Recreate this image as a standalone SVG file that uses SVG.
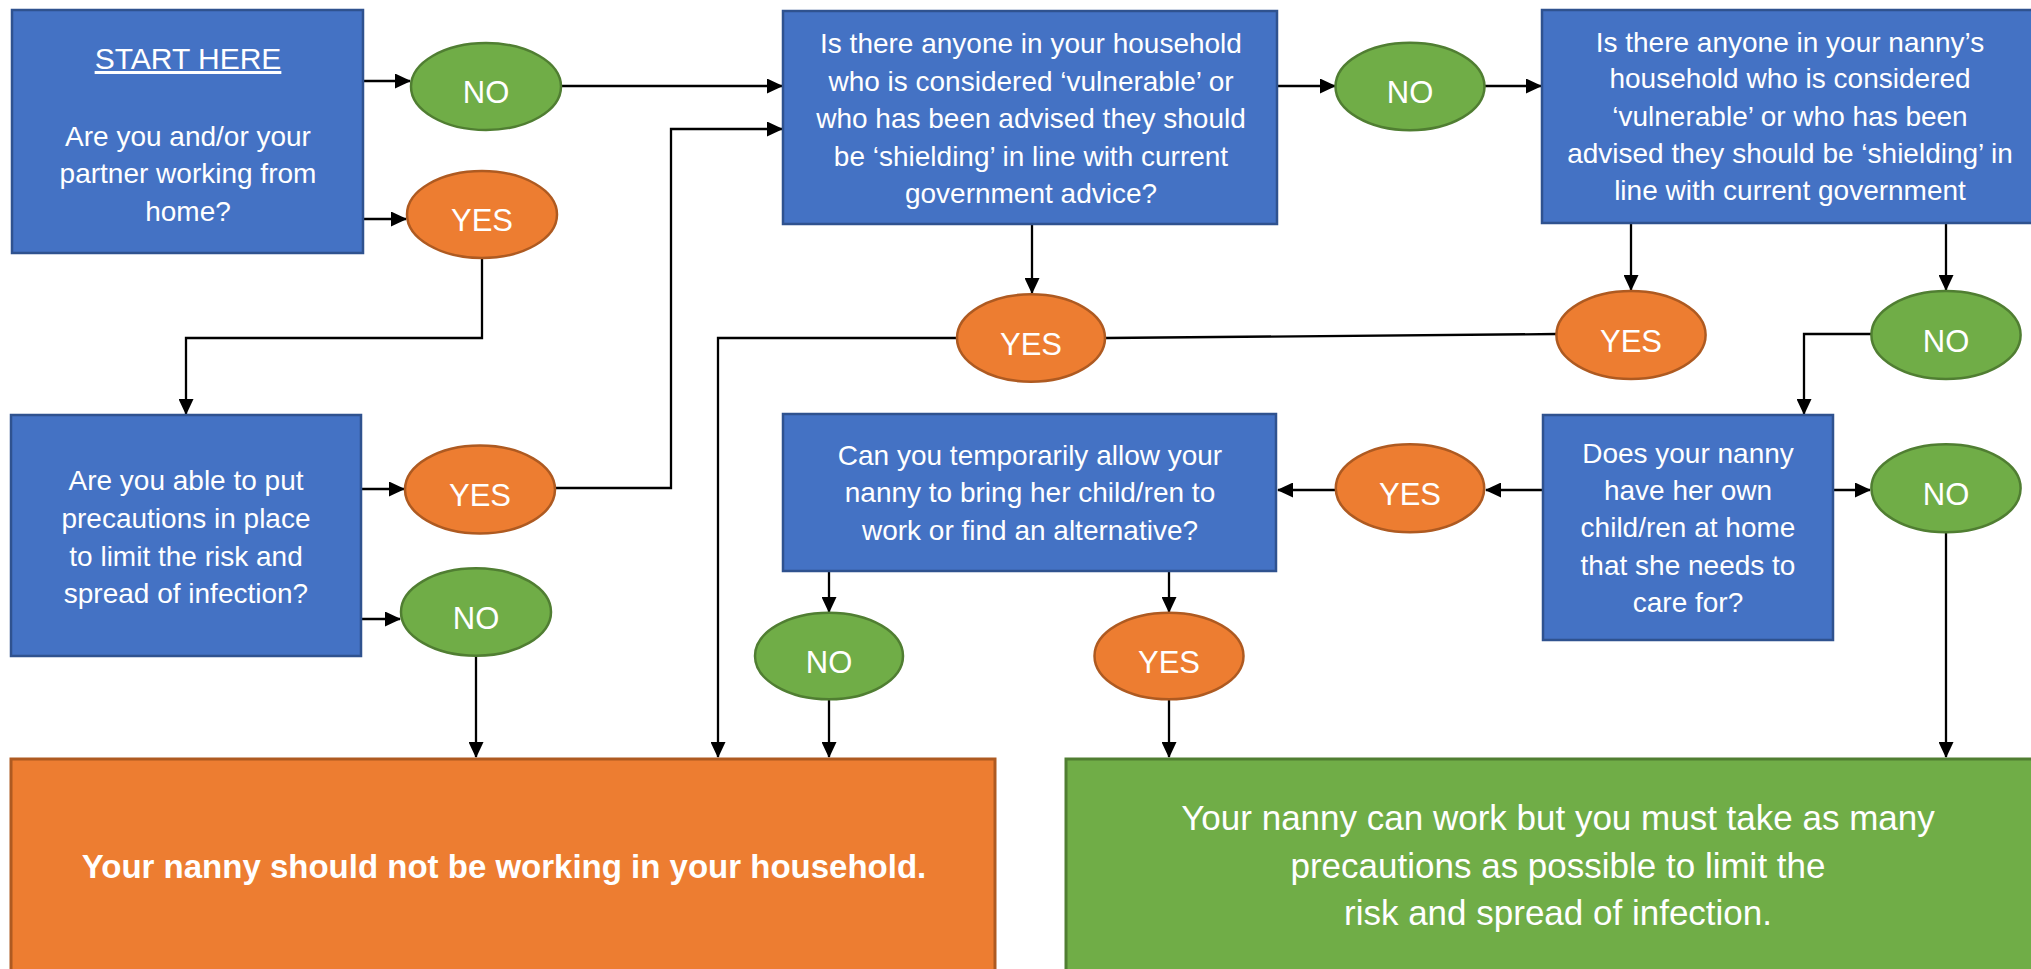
<svg xmlns="http://www.w3.org/2000/svg" width="2031" height="969" viewBox="0 0 2031 969">
<style>
.box{fill:#4472C4;stroke:#2F528F;stroke-width:2.5}
.yes{fill:#ED7D31;stroke:#AE5A21;stroke-width:2.5}
.no{fill:#70AD47;stroke:#507E32;stroke-width:2.5}
.t{font-family:"Liberation Sans",Arial,sans-serif;font-size:28px;fill:#fff;text-anchor:middle}
.head{font-size:30px;text-decoration:underline}
.big{font-size:35px}
.bold{font-size:33px;font-weight:bold}
.lbl{font-family:"Liberation Sans",Arial,sans-serif;font-size:31px;fill:#fff;text-anchor:middle}
.c{fill:none;stroke:#000;stroke-width:2.3}
</style>
<defs>
<marker id="ah" markerUnits="userSpaceOnUse" markerWidth="16" markerHeight="15" refX="15" refY="7.5" orient="auto">
<path d="M0,0 L16,7.5 L0,15 z" fill="#000"/>
</marker>
</defs>
<rect width="2031" height="969" fill="#fff"/>

<g id="connectors">
<path class="c" d="M363,81 H410" marker-end="url(#ah)"/>
<path class="c" d="M360,219 H406" marker-end="url(#ah)"/>
<path class="c" d="M561,86 H782" marker-end="url(#ah)"/>
<path class="c" d="M482,258 V338 H186 V414" marker-end="url(#ah)"/>
<path class="c" d="M361,489 H404" marker-end="url(#ah)"/>
<path class="c" d="M361,619 H400" marker-end="url(#ah)"/>
<path class="c" d="M556,488 H671 V129 H782" marker-end="url(#ah)"/>
<path class="c" d="M476,656 V757" marker-end="url(#ah)"/>
<path class="c" d="M1278,86 H1335" marker-end="url(#ah)"/>
<path class="c" d="M1485,86 H1541" marker-end="url(#ah)"/>
<path class="c" d="M1032,224 V293" marker-end="url(#ah)"/>
<path class="c" d="M957,338 H718 V757" marker-end="url(#ah)"/>
<path class="c" d="M1556,334 L1106,338"/>
<path class="c" d="M1631,224 V290" marker-end="url(#ah)"/>
<path class="c" d="M1946,224 V290" marker-end="url(#ah)"/>
<path class="c" d="M1871,334 H1804 V414" marker-end="url(#ah)"/>
<path class="c" d="M1834,490 H1870" marker-end="url(#ah)"/>
<path class="c" d="M1543,490 H1486" marker-end="url(#ah)"/>
<path class="c" d="M1336,490 H1278" marker-end="url(#ah)"/>
<path class="c" d="M829,571 V612" marker-end="url(#ah)"/>
<path class="c" d="M1169,571 V612" marker-end="url(#ah)"/>
<path class="c" d="M829,699 V757" marker-end="url(#ah)"/>
<path class="c" d="M1169,699 V757" marker-end="url(#ah)"/>
<path class="c" d="M1946,532 V757" marker-end="url(#ah)"/>
</g>

<g id="start">
<rect class="box" x="12" y="10" width="351" height="243"/>
<text class="t head" x="188" y="69">START HERE</text>
<text class="t" x="188" y="146">Are you and/or your</text>
<text class="t" x="188" y="183">partner working from</text>
<text class="t" x="188" y="221">home?</text>
</g>

<g id="no1"><ellipse class="no" cx="486" cy="86.5" rx="75" ry="43.5"/><text class="lbl" x="486" y="103">NO</text></g>
<g id="yes1"><ellipse class="yes" cx="482" cy="214.5" rx="75" ry="43.5"/><text class="lbl" x="482" y="231">YES</text></g>

<g id="precautions">
<rect class="box" x="11" y="415" width="350" height="241"/>
<text class="t" x="186" y="490">Are you able to put</text>
<text class="t" x="186" y="528">precautions in place</text>
<text class="t" x="186" y="566">to limit the risk and</text>
<text class="t" x="186" y="603">spread of infection?</text>
</g>

<g id="yes2"><ellipse class="yes" cx="480" cy="489.5" rx="75" ry="44"/><text class="lbl" x="480" y="506">YES</text></g>
<g id="no2"><ellipse class="no" cx="476" cy="612" rx="75" ry="43.7"/><text class="lbl" x="476" y="629">NO</text></g>

<g id="household">
<rect class="box" x="783" y="11" width="494" height="213"/>
<text class="t" x="1031" y="53">Is there anyone in your household</text>
<text class="t" x="1031" y="91">who is considered ‘vulnerable’ or</text>
<text class="t" x="1031" y="128">who has been advised they should</text>
<text class="t" x="1031" y="166">be ‘shielding’ in line with current</text>
<text class="t" x="1031" y="203">government advice?</text>
</g>

<g id="no3"><ellipse class="no" cx="1410" cy="86.5" rx="74.5" ry="43.7"/><text class="lbl" x="1410" y="103">NO</text></g>

<g id="nanny-household">
<rect class="box" x="1542" y="10" width="500" height="213"/>
<text class="t" x="1790" y="52">Is there anyone in your nanny’s</text>
<text class="t" x="1790" y="88">household who is considered</text>
<text class="t" x="1790" y="126">‘vulnerable’ or who has been</text>
<text class="t" x="1790" y="163">advised they should be ‘shielding’ in</text>
<text class="t" x="1790" y="200">line with current government</text>
</g>

<g id="yes3"><ellipse class="yes" cx="1031" cy="338" rx="74" ry="43.7"/><text class="lbl" x="1031" y="355">YES</text></g>
<g id="yes4"><ellipse class="yes" cx="1631" cy="335" rx="74.6" ry="44"/><text class="lbl" x="1631" y="352">YES</text></g>
<g id="no4"><ellipse class="no" cx="1946" cy="335" rx="74.6" ry="44"/><text class="lbl" x="1946" y="352">NO</text></g>

<g id="own-children">
<rect class="box" x="1543" y="415" width="290" height="225"/>
<text class="t" x="1688" y="463">Does your nanny</text>
<text class="t" x="1688" y="500">have her own</text>
<text class="t" x="1688" y="537">child/ren at home</text>
<text class="t" x="1688" y="575">that she needs to</text>
<text class="t" x="1688" y="612">care for?</text>
</g>

<g id="yes5"><ellipse class="yes" cx="1410" cy="488.3" rx="74.2" ry="44"/><text class="lbl" x="1410" y="505">YES</text></g>
<g id="no5"><ellipse class="no" cx="1946" cy="488.3" rx="74.6" ry="44"/><text class="lbl" x="1946" y="505">NO</text></g>

<g id="bring-children">
<rect class="box" x="783" y="414" width="493" height="157"/>
<text class="t" x="1030" y="465">Can you temporarily allow your</text>
<text class="t" x="1030" y="502">nanny to bring her child/ren to</text>
<text class="t" x="1030" y="540">work or find an alternative?</text>
</g>

<g id="no6"><ellipse class="no" cx="829" cy="656" rx="74" ry="43.3"/><text class="lbl" x="829" y="673">NO</text></g>
<g id="yes6"><ellipse class="yes" cx="1169" cy="656" rx="74.5" ry="43.3"/><text class="lbl" x="1169" y="673">YES</text></g>

<g id="outcome-no">
<rect x="11" y="759" width="984" height="230" fill="#ED7D31" stroke="#AE5A21" stroke-width="3"/>
<text class="t bold" x="504" y="878">Your nanny should not be working in your household.</text>
</g>

<g id="outcome-yes">
<rect x="1066" y="759" width="985" height="230" fill="#70AD47" stroke="#507E32" stroke-width="3"/>
<text class="t big" x="1558" y="830">Your nanny can work but you must take as many</text>
<text class="t big" x="1558" y="878">precautions as possible to limit the</text>
<text class="t big" x="1558" y="925">risk and spread of infection.</text>
</g>
</svg>
